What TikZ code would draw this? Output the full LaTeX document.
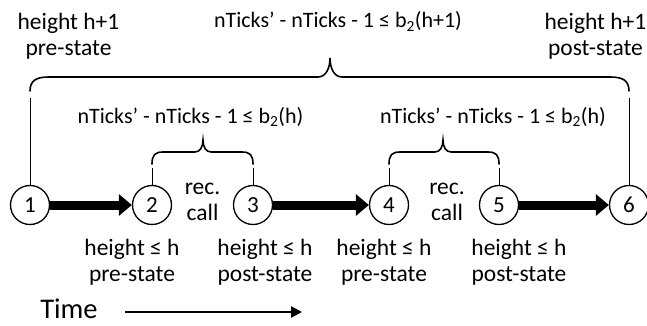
\documentclass[tikz,border=0pt]{standalone}
\usepackage{fontspec}
\setmainfont{Carlito}
\usetikzlibrary{arrows.meta}
\tikzset{
  state/.style={circle, draw, line width=1.3pt, minimum size=39pt, inner sep=0pt, fill=white,
    font=\fontsize{23}{26}\selectfont},
  lbl/.style={align=center, inner sep=0pt, font=\fontsize{23.5}{26}\selectfont},
  formula/.style={inner sep=0pt, anchor=base, font=\fontsize{22}{26}\selectfont},
  thick arrow/.style={line width=9pt, -{Triangle[length=13pt,width=21pt]}},
  brace/.style={line width=1.6pt, line cap=round},
  stem/.style={line width=1pt}
}
\newcommand{\bsub}[1]{\textsubscript{#1}}
\begin{document}
\begin{tikzpicture}[x=1pt,y=-1pt]
\useasboundingbox (0,0) rectangle (647,326);
% states
\node[state] (n1) at (30,205) {1};
\node[state] (n2) at (152,205) {2};
\node[state] (n3) at (253,205) {3};
\node[state] (n4) at (389,205) {4};
\node[state] (n5) at (499,205) {5};
\node[state] (n6) at (629,205) {6};
% thick arrows
\draw[thick arrow] (n1) -- (n2);
\draw[thick arrow] (n3) -- (n4);
\draw[thick arrow] (n5) -- (n6);
% big brace
\coordinate (bl) at (30,98);
\coordinate (br) at (629,98);
\draw[brace] (30,91) .. controls (30,80) and (37,77) .. (49,77) -- (318,77)
  .. controls (326,77) and (330,68) .. (330,58)
  .. controls (330,68) and (334,77) .. (342,77) -- (610,77)
  .. controls (622,77) and (629,80) .. (629,91);
\draw[stem] (bl) -- (n1.north);
\draw[stem] (br) -- (n6.north);
% small brace 1
\coordinate (s1l) at (152,168);
\coordinate (s1r) at (253,168);
\draw[brace] (152,164) .. controls (152,155) and (155,152) .. (163,152) -- (195,152)
  .. controls (200,152) and (203,147) .. (203,140)
  .. controls (203,147) and (206,152) .. (211,152) -- (242,152)
  .. controls (250,152) and (253,155) .. (253,164);
\draw[stem] (s1l) -- (n2.north);
\draw[stem] (s1r) -- (n3.north);
% small brace 2
\coordinate (s2l) at (389,168);
\coordinate (s2r) at (499,168);
\draw[brace] (389,164) .. controls (389,155) and (392,152) .. (400,152) -- (435,152)
  .. controls (440,152) and (443,147) .. (443,140)
  .. controls (443,147) and (446,152) .. (451,152) -- (488,152)
  .. controls (496,152) and (499,155) .. (499,164);
\draw[stem] (s2l) -- (n4.north);
\draw[stem] (s2r) -- (n5.north);
% labels top
\node[lbl] (t1) at (68.5,36.5) {height h+1\\pre-state};
\node[formula] (t2) at (338,28) {nTicks’ - nTicks - 1 ≤ b\bsub{2}(h+1)};
\node[lbl] (t3) at (595.5,36) {height h+1\\post-state};
\node[formula] (m1) at (190.5,123) {nTicks’ - nTicks - 1 ≤ b\bsub{2}(h)};
\node[formula] (m2) at (493,123) {nTicks’ - nTicks - 1 ≤ b\bsub{2}(h)};
% rec. call
\node[lbl] (r1) at (202.5,202) {rec.\\call};
\node[lbl] (r2) at (447,202) {rec.\\call};
% bottom labels
\node[lbl] (b2) at (132,262.5) {height ≤ h\\pre-state};
\node[lbl] (b3) at (265,262.5) {height ≤ h\\post-state};
\node[lbl] (b4) at (384,262.5) {height ≤ h\\pre-state};
\node[lbl] (b5) at (519,262.5) {height ≤ h\\post-state};
% time
\node[inner sep=0pt, anchor=base, font=\fontsize{28.5}{34}\selectfont] (time) at (69,318) {Time};
\coordinate (ta) at (125,312);
\coordinate (tb) at (302,312);
\draw[line width=2.4pt, -{Triangle[length=11pt,width=11pt]}] (ta) -- (tb);
\end{tikzpicture}
\end{document}
